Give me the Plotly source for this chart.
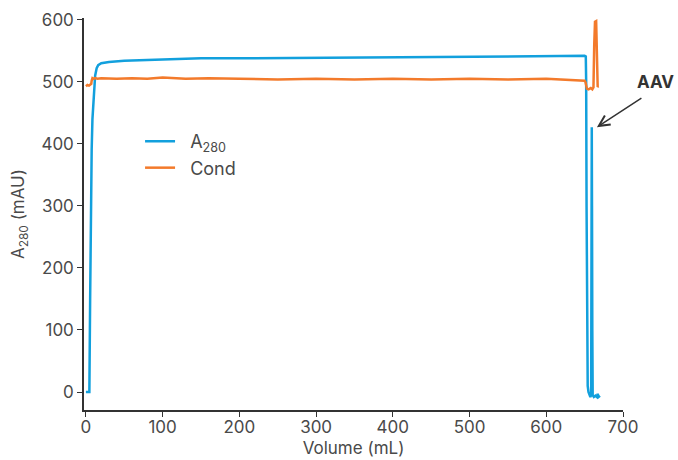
import plotly.graph_objects as go

# A280 trace (mAU) vs volume (mL)
a280_x = [0, 4.5, 5.5, 6.5, 7.5, 8.5, 10, 12, 14, 16, 20, 30, 50, 100, 150, 200, 300, 400, 500, 600, 650,
          651.5, 652, 652.5, 653, 654, 655, 656, 657.5, 658.5, 659, 659.3, 659.6, 660, 660.5, 662, 664, 666, 667, 668, 670]
a280_y = [0, 0, 150, 300, 390, 440, 480, 510, 522, 527, 530, 532, 534, 536, 538, 538, 539, 540, 541, 542, 542,
          541, 500, 300, 100, 10, 0, -5, -8, -5, 200, 427, 300, 100, -5, -8, -6, -8, -3, -8, -6]

# Conductivity trace (scaled to the same axis)
cond_x = [0, 2, 4, 6, 7, 7.5, 8.5, 10, 12, 15, 20, 40, 60, 80, 100, 130, 160, 200, 250, 300, 350, 400, 450, 500,
          550, 600, 640, 650, 651, 653, 655, 658, 660, 661.5, 662.5, 663.5, 665, 666, 667, 668]
cond_y = [493, 495, 494, 496, 497, 502, 506, 505, 506, 505, 506, 505, 506, 505, 507, 505, 506, 505, 504, 505, 504, 505, 504, 505,
          504, 505, 503, 502, 500, 489, 488, 490, 488, 491, 560, 597, 598, 560, 492, 493]

x_ticks = [0, 100, 200, 300, 400, 500, 600, 700]
y_ticks = [0, 100, 200, 300, 400, 500, 600]

blue = "#12A0DD"
orange = "#F37A2B"
font_family = "Inter, Roboto, Arial, sans-serif"
nb = "\u00a0\u00a0"

fig = go.Figure()
fig.add_trace(go.Scatter(x=a280_x, y=a280_y, mode="lines", name=nb + "A<sub>280</sub>",
                         line=dict(color=blue, width=2.5)))
fig.add_trace(go.Scatter(x=cond_x, y=cond_y, mode="lines", name=nb + "Cond",
                         line=dict(color=orange, width=2.5)))

fig.add_annotation(x=666, y=427, ax=46, ay=-30, xref="x", yref="y", text="",
                   showarrow=True, arrowhead=5, arrowsize=1.4, arrowwidth=1.5,
                   arrowcolor="#333333")
fig.add_annotation(x=1.061, y=0.837, xref="paper", yref="paper", text="<b>AAV</b>",
                   xanchor="center", yanchor="middle",
                   showarrow=False, font=dict(family=font_family, size=17, color="#333333"))

fig.update_layout(
    width=678, height=460,
    margin=dict(l=84, r=55, t=18, b=50, autoexpand=False),
    paper_bgcolor="white", plot_bgcolor="white",
    font=dict(family=font_family, size=17, color="#4a4a4a"),
    legend=dict(x=0.104, y=0.732, xanchor="left", yanchor="top",
                bgcolor="rgba(0,0,0,0)", font=dict(family=font_family, size=18, color="#4a4a4a"),
                itemwidth=30, tracegroupgap=0),
    showlegend=True,
)
fig.update_xaxes(range=[-2.5, 700], tickvals=x_ticks, showgrid=False, zeroline=False,
                 showline=True, linecolor="#333333", linewidth=1.5, automargin=False,
                 ticks="outside", ticklen=5, tickcolor="#333333", ticklabelstandoff=-4,
                 title=dict(text="Volume (mL)", standoff=6, font=dict(size=17)))
fig.update_yaxes(range=[-29, 603], tickvals=y_ticks, showgrid=False, zeroline=False,
                 showline=True, linecolor="#333333", linewidth=1.5, automargin=False,
                 ticks="outside", ticklen=5, tickcolor="#333333",
                 title=dict(text="A<sub>280</sub> (mAU)", standoff=12, font=dict(size=17)))

fig.write_html("out.html", post_script="document.body.style.margin='0px';",
               config={"displayModeBar": False})
